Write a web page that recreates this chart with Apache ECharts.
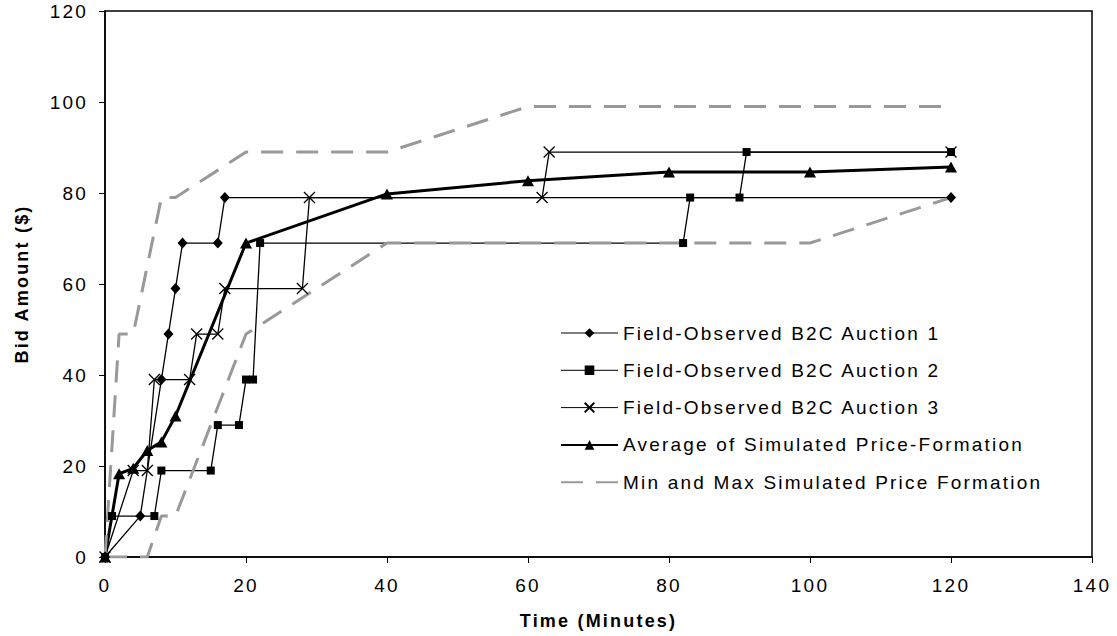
<!DOCTYPE html>
<html>
<head>
<meta charset="utf-8">
<title>Bid Amount over Time</title>
<script src="https://cdn.jsdelivr.net/npm/echarts@6.0.0/dist/echarts.min.js"></script>
<style>
	html, body { margin: 0; padding: 0; background: #fff; }
	#chart { width: 1117px; height: 636px; }
	/* the original export has wide-set letters */
	#chart text { letter-spacing: 2.2px; }
</style>
</head>
<body>
<div id="chart"></div>
<script>
// time (minutes), bid amount ($)
var auction1 = [[0, 0], [5, 9], [8, 39], [9, 49], [10, 59], [11, 69], [16, 69], [17, 79], [120, 79]];
var auction2 = [[0, 0], [1, 9], [7, 9], [8, 19], [15, 19], [16, 29], [19, 29], [20, 39], [21, 39],
	[22, 69], [82, 69], [83, 79], [90, 79], [91, 89], [120, 89]];
var auction3 = [[0, 0], [4, 19], [6, 19], [7, 39], [12, 39], [13, 49], [16, 49], [17, 59], [28, 59],
	[29, 79], [62, 79], [63, 89], [120, 89]];
var average = [[0, 0], [2, 18.3], [4, 19.5], [6, 23.4], [8, 25.3], [10, 31], [20, 69], [40, 79.8],
	[60, 82.7], [80, 84.6], [100, 84.6], [120, 85.7]];
var maxSim = [[0, 0], [2, 49], [4, 49], [8, 79], [10, 79], [20, 89], [40, 89], [60, 99], [120, 99]];
var minSim = [[0, 0], [6, 0], [8, 9], [10, 9], [20, 49], [40, 69], [100, 69], [120, 79]];

var names = [
	'Field-Observed B2C Auction 1',
	'Field-Observed B2C Auction 2',
	'Field-Observed B2C Auction 3',
	'Average of Simulated Price-Formation',
	'Min and Max Simulated Price Formation'
];

var font = 'Liberation Sans, Arial, sans-serif';
var crossMark = 'path://M0,0L10,10M10,0L0,10';
var grey = '#999';

var chart = echarts.init(document.getElementById('chart'), null, { renderer: 'svg' });

var option = {
	animation: false,
	backgroundColor: '#fff',
	grid: {
		left: 105,
		right: 25,
		top: 11,
		bottom: 79,
		show: true,
		borderColor: '#000',
		borderWidth: 1.5
	},
	legend: {
		orient: 'vertical',
		left: 555,
		top: 317,
		itemWidth: 57,
		itemHeight: 12,
		itemGap: 15.3,
		textStyle: {
			color: '#000',
			fontSize: 19,
			fontFamily: font,
			lineHeight: 22
		},
		data: [
			{ name: names[0], lineStyle: { width: 1 } },
			{ name: names[1], lineStyle: { width: 1 } },
			{ name: names[2], lineStyle: { width: 1 } },
			{ name: names[3] },
			{ name: names[4], itemStyle: { color: 'rgba(0,0,0,0)', borderWidth: 0 } }
		]
	},
	xAxis: {
		type: 'value',
		min: 0,
		max: 140,
		interval: 20,
		name: 'Time (Minutes)',
		nameLocation: 'middle',
		nameGap: 55,
		nameTextStyle: { color: '#000', fontSize: 18, fontWeight: 'bold', fontFamily: font },
		axisLine: { lineStyle: { color: '#000', width: 1.5 } },
		axisTick: { inside: false, length: 6, lineStyle: { color: '#000', width: 1 } },
		axisLabel: { color: '#000', fontSize: 19, fontFamily: font, margin: 19 },
		splitLine: { show: false }
	},
	yAxis: {
		type: 'value',
		min: 0,
		max: 120,
		interval: 20,
		name: 'Bid Amount ($)',
		nameLocation: 'middle',
		nameGap: 74,
		nameTextStyle: { color: '#000', fontSize: 18, fontWeight: 'bold', fontFamily: font },
		axisLine: { lineStyle: { color: '#000', width: 1.5 } },
		axisTick: { inside: false, length: 6, lineStyle: { color: '#000', width: 1 } },
		axisLabel: { color: '#000', fontSize: 19, fontFamily: font, margin: 17 },
		splitLine: { show: false }
	},
	series: [
		{
			name: names[0],
			type: 'line',
			data: auction1,
			symbol: 'diamond',
			symbolSize: [10, 11],
			lineStyle: { color: '#000', width: 1.3 },
			itemStyle: { color: '#000' }
		},
		{
			name: names[1],
			type: 'line',
			data: auction2,
			symbol: 'rect',
			symbolSize: 8,
			lineStyle: { color: '#000', width: 1.3 },
			itemStyle: { color: '#000' }
		},
		{
			name: names[2],
			type: 'line',
			data: auction3,
			symbol: crossMark,
			symbolSize: 11,
			lineStyle: { color: '#000', width: 1.3 },
			itemStyle: { color: '#000', borderColor: '#000', borderWidth: 1.3 }
		},
		{
			name: names[3],
			type: 'line',
			data: average,
			symbol: 'triangle',
			symbolSize: [12, 11],
			lineStyle: { color: '#000', width: 3 },
			itemStyle: { color: '#000' }
		},
		{
			name: names[4],
			type: 'line',
			data: maxSim,
			symbol: 'none',
			lineStyle: { color: grey, width: 3, type: [22, 13] },
			itemStyle: { color: grey }
		},
		{
			name: names[4],
			type: 'line',
			data: minSim,
			symbol: 'none',
			lineStyle: { color: grey, width: 3, type: [22, 13] },
			itemStyle: { color: grey }
		}
	]
};

chart.setOption(option);
</script>
</body>
</html>
